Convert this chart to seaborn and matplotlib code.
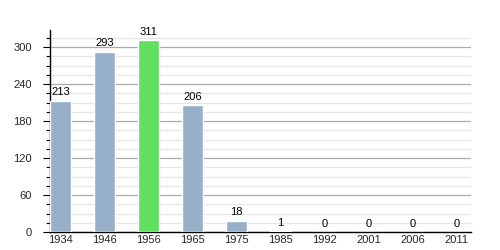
import matplotlib
matplotlib.use("Agg")
import matplotlib.pyplot as plt
import seaborn as sns
import pandas as pd
from matplotlib.ticker import MultipleLocator

years = ["1934", "1946", "1956", "1965", "1975", "1985", "1992", "2001", "2006", "2011"]
values = [213, 293, 311, 206, 18, 1, 0, 0, 0, 0]
highlight = "1956"

base_color = "#97afc9"
high_color = "#5fe05f"

sns.set_theme(style="white")
plt.rcParams["font.family"] = ["Liberation Sans", "DejaVu Sans"]

df = pd.DataFrame({"year": years, "value": values})
palette = {y: (high_color if y == highlight else base_color) for y in years}

fig = plt.figure(figsize=(5, 2.5), dpi=100)
ax = fig.add_axes([0.1, 0.072, 0.842, 0.808])

sns.barplot(data=df, x="year", y="value", hue="year", palette=palette,
            width=0.48, saturation=1, legend=False, ax=ax, zorder=3)

ax.set_xlim(-0.24, 9.33)
ax.set_ylim(0, 328)
ax.yaxis.set_major_locator(MultipleLocator(60))
ax.yaxis.set_minor_locator(MultipleLocator(15))
ax.grid(which="major", axis="y", color="#aaaaaa", linewidth=0.9, zorder=0)
ax.grid(which="minor", axis="y", color="#e6e6e6", linewidth=0.9, zorder=0)
ax.set_axisbelow(True)

for s in ["top", "right"]:
    ax.spines[s].set_visible(False)
for s in ["left", "bottom"]:
    ax.spines[s].set_color("black")
    ax.spines[s].set_linewidth(1.0)

ax.tick_params(axis="y", which="major", length=5, width=0.8, color="black",
               labelsize=8, pad=8, left=True)
ax.tick_params(axis="y", which="minor", length=3, width=0.8, color="black", left=True)
ax.tick_params(axis="x", length=0, labelsize=8, pad=2)
ax.set_xlabel("")
ax.set_ylabel("")

for i, v in enumerate(values):
    ax.annotate(str(v), xy=(i, v), xytext=(0, 2.5), textcoords="offset points",
                ha="center", va="bottom", fontsize=8, color="black")

fig.savefig("out.png", dpi=100)
